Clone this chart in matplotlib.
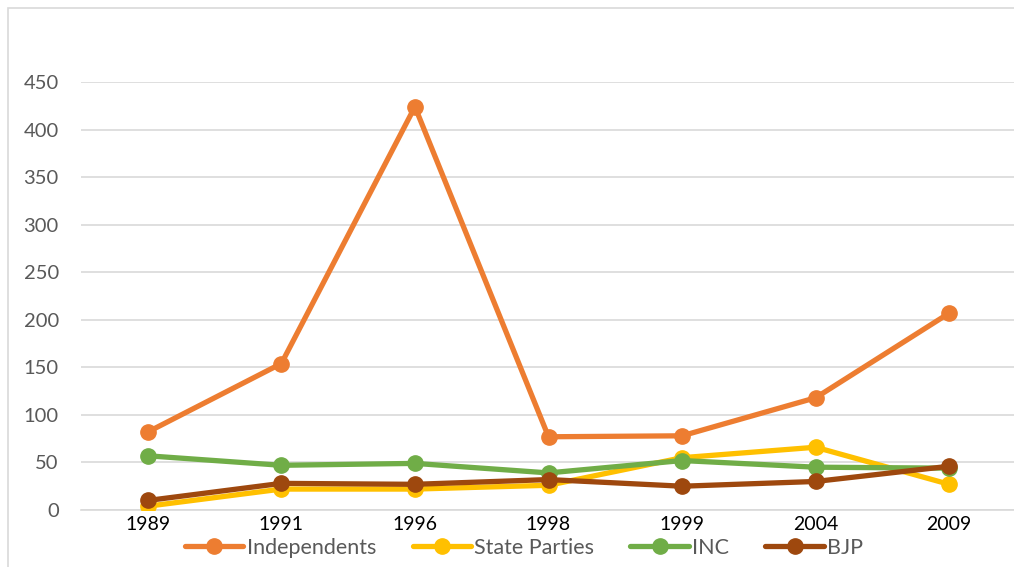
import matplotlib
matplotlib.use("Agg")
import matplotlib.pyplot as plt
from matplotlib.patches import Rectangle

years = ["1989", "1991", "1996", "1998", "1999", "2004", "2009"]
independents = [82, 154, 424, 77, 78, 118, 207]
state_parties = [4, 22, 22, 26, 55, 66, 27]
inc = [57, 47, 49, 39, 52, 45, 44]
bjp = [10, 28, 27, 32, 25, 30, 46]
y_ticks = [0, 50, 100, 150, 200, 250, 300, 350, 400, 450]

series = [
    ("Independents", independents, "#ED7D31"),
    ("State Parties", state_parties, "#FFC000"),
    ("INC", inc, "#70AD47"),
    ("BJP", bjp, "#9E480E"),
]

plt.rcParams["font.family"] = ["Lato", "DejaVu Sans"]

fig = plt.figure(figsize=(10.14, 5.67), dpi=100)
# light chart-area frame (runs off the right and bottom edges)
fig.patches.append(Rectangle((8 / 1014, -0.2), 1.2, 1.2 - 8 / 567, transform=fig.transFigure,
                             fill=False, edgecolor="#D9D9D9", linewidth=1.2))

ax = fig.add_axes([81 / 1014, (567 - 510) / 567, 935 / 1014, 428 / 567])
x = list(range(len(years)))
for name, vals, color in series:
    ax.plot(x, vals, color=color, linewidth=3.8, marker="o", markersize=11,
            label=name, solid_capstyle="round", zorder=3)

ax.set_xlim(-0.5, len(years) - 0.5)
ax.set_ylim(0, 450)
ax.set_yticks(y_ticks)
ax.set_xticks(x)
ax.set_xticklabels(years)
ax.grid(axis="y", color="#D9D9D9", linewidth=1.2)
ax.set_axisbelow(True)
for s in ["top", "right", "left"]:
    ax.spines[s].set_visible(False)
ax.spines["bottom"].set_color("#D9D9D9")
ax.spines["bottom"].set_linewidth(1.2)
ax.tick_params(axis="both", length=0)
ax.tick_params(axis="y", labelsize=14.5, labelcolor="#595959", pad=16)
ax.tick_params(axis="x", labelsize=14, labelcolor="#000000", pad=4)

fig.legend(loc="center", bbox_to_anchor=(524 / 1014, 1 - 548 / 567), ncol=4,
           frameon=False, fontsize=15.5, handlelength=2.7, columnspacing=1.7,
           handletextpad=0.15, labelcolor="#595959")

fig.savefig("out.png", dpi=100, facecolor="white")
